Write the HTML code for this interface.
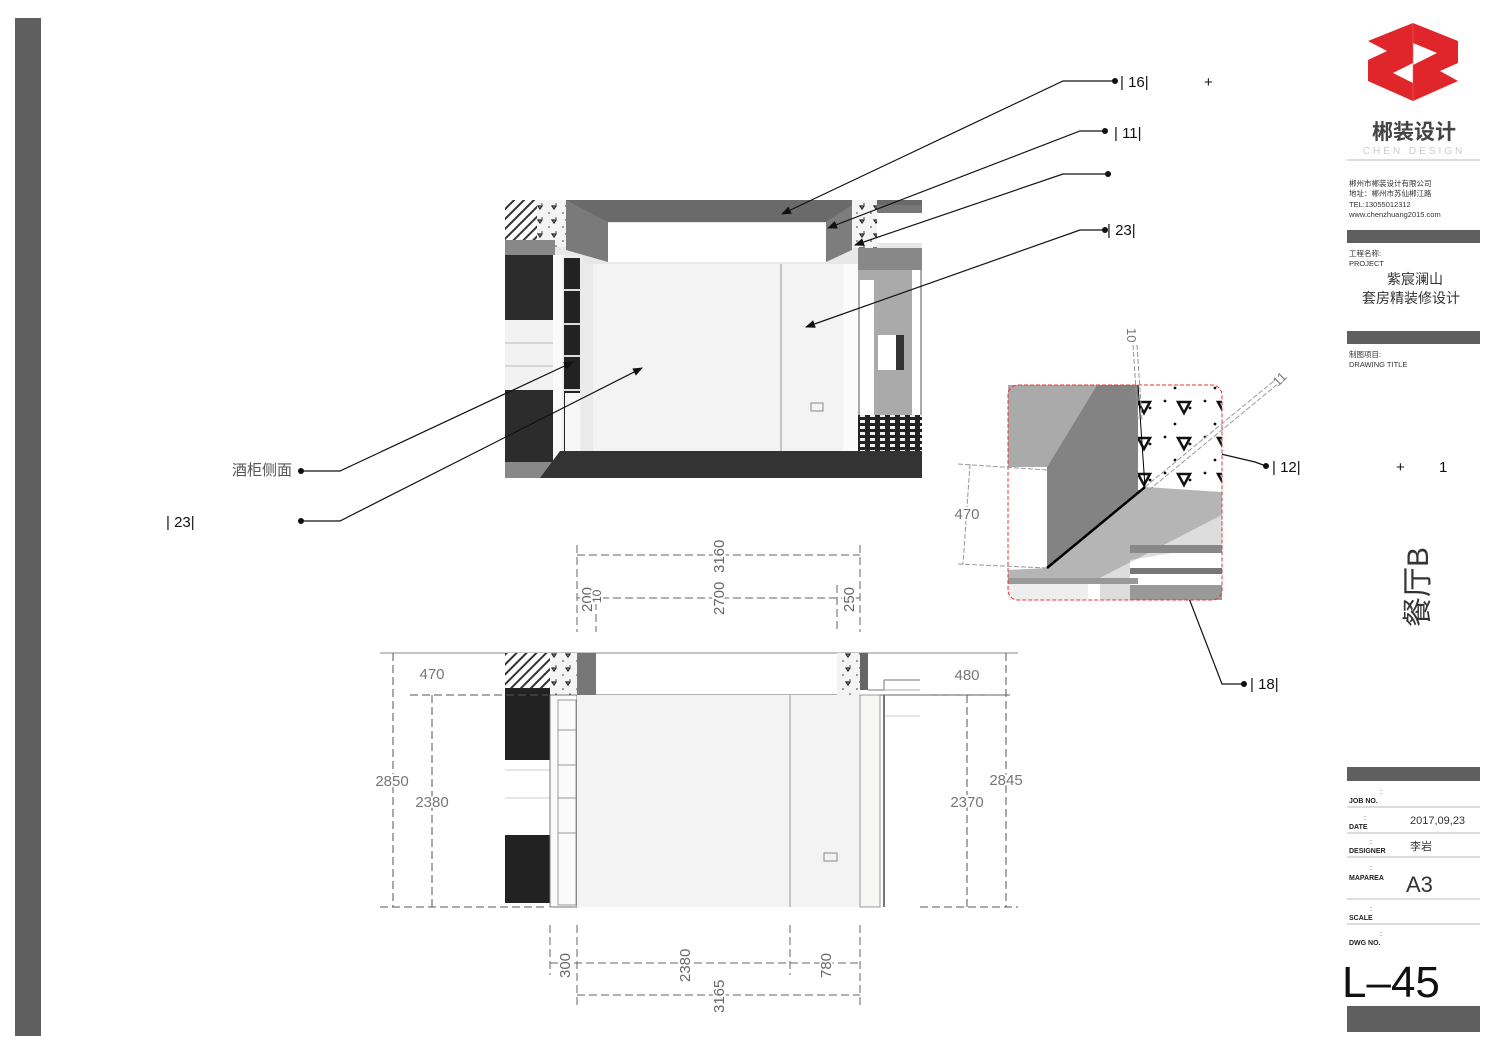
<!DOCTYPE html>
<html><head><meta charset="utf-8"><style>
html,body{margin:0;padding:0;background:#fff;}
svg{display:block;font-family:"Liberation Sans","Noto Sans CJK SC",sans-serif;}
.dt{paint-order:stroke;stroke:#fff;stroke-width:4px;}
</style></head><body>
<svg width="1500" height="1061" viewBox="0 0 1500 1061" xmlns="http://www.w3.org/2000/svg">
<defs>
<pattern id="hatch" width="7" height="7" patternUnits="userSpaceOnUse" patternTransform="rotate(45)">
<rect width="7" height="7" fill="#fff"/><rect width="2" height="7" fill="#333"/></pattern>
<pattern id="conc" width="14" height="14" patternUnits="userSpaceOnUse">
<rect width="14" height="14" fill="#f4f4f4"/><circle cx="3" cy="3" r="0.8" fill="#333"/><circle cx="10" cy="8" r="0.8" fill="#333"/><path d="M6 10 L10 10 L8 13 Z" fill="none" stroke="#222" stroke-width="1.2"/></pattern>
<pattern id="conc2" width="40" height="36" patternUnits="userSpaceOnUse">
<rect width="40" height="36" fill="#fff"/><circle cx="5" cy="5" r="1.4" fill="#111"/><circle cx="30" cy="12" r="1.4" fill="#111"/><circle cx="15" cy="28" r="1.4" fill="#111"/><path d="M18 6 L30 6 L24 17 Z" fill="none" stroke="#111" stroke-width="2.5"/></pattern>
<pattern id="check" width="10" height="6" patternUnits="userSpaceOnUse"><rect width="10" height="6" fill="#222"/><rect width="5" height="3" fill="#eee"/></pattern>
<marker id="ar" markerWidth="10" markerHeight="8" refX="9" refY="4" orient="auto" markerUnits="userSpaceOnUse"><path d="M0 0 L10 4 L0 8 Z" fill="#111"/></marker>
</defs>

<rect x="15" y="18" width="26" height="1018" fill="#5f5f5f"/>

<!-- Perspective view -->
<g>
<rect x="505" y="200" width="417" height="278" fill="#e8e8e8"/>
<rect x="505" y="200" width="32" height="40" fill="url(#hatch)"/>
<rect x="537" y="200" width="29" height="47" fill="url(#conc)"/>
<rect x="566" y="200" width="356" height="22" fill="#6a6a6a"/>
<polygon points="566,200 608,222 608,262 566,250" fill="#7a7a7a"/>
<polygon points="826,222 852,205 852,250 826,262" fill="#7d7d7d"/>
<rect x="608" y="223" width="218" height="39" fill="#fff"/>
<rect x="852" y="200" width="25" height="48" fill="url(#conc)"/>
<rect x="877" y="205" width="45" height="8" fill="#777"/>
<rect x="877" y="213" width="45" height="30" fill="#fff"/>
<rect x="858" y="248" width="64" height="22" fill="#888"/>
<rect x="505" y="240" width="50" height="15" fill="#888"/>
<rect x="505" y="255" width="48" height="65" fill="#2c2c2c"/>
<rect x="505" y="320" width="48" height="70" fill="#f2f2f2"/>
<line x1="505" y1="343" x2="553" y2="343" stroke="#bbb"/><line x1="505" y1="366" x2="553" y2="366" stroke="#bbb"/>
<rect x="505" y="390" width="48" height="72" fill="#2c2c2c"/>
<rect x="505" y="462" width="48" height="16" fill="#888"/>
<rect x="553" y="255" width="12" height="210" fill="#fafafa"/>
<rect x="563" y="257" width="18" height="208" fill="#222" stroke="#eee" stroke-width="2"/>
<line x1="563" y1="290" x2="581" y2="290" stroke="#ddd" stroke-width="2"/><line x1="563" y1="324" x2="581" y2="324" stroke="#ddd" stroke-width="2"/><line x1="563" y1="356" x2="581" y2="356" stroke="#ddd" stroke-width="2"/><line x1="563" y1="390" x2="581" y2="390" stroke="#ddd" stroke-width="2"/>
<rect x="565" y="393" width="15" height="70" fill="#f7f7f7"/>
<rect x="581" y="264" width="12" height="186" fill="#eaeaea"/>
<rect x="593" y="264" width="250" height="187" fill="#f3f3f3"/>
<line x1="781" y1="264" x2="781" y2="451" stroke="#999"/>
<rect x="843" y="264" width="15" height="187" fill="#fbfbfb"/>
<rect x="858" y="270" width="64" height="145" fill="#aaa"/>
<rect x="860" y="280" width="14" height="135" fill="#fff"/>
<rect x="878" y="335" width="18" height="35" fill="#fff"/>
<rect x="896" y="335" width="8" height="35" fill="#333"/>
<rect x="912" y="270" width="8" height="175" fill="#fff"/>
<rect x="858" y="415" width="64" height="36" fill="url(#check)"/>
<polygon points="540,478 560,451 922,451 922,478" fill="#333"/>
<rect x="811" y="403" width="12" height="8" fill="none" stroke="#888"/>
</g>

<!-- Leaders -->
<g stroke="#111" stroke-width="1.2" fill="none">
<polyline points="1115,81 1063,81 782,214" marker-end="url(#ar)"/>
<polyline points="1105,131 1080,131 828,228" marker-end="url(#ar)"/>
<polyline points="1108,174 1063,174 855,245" marker-end="url(#ar)"/>
<polyline points="1105,230 1080,230 806,327" marker-end="url(#ar)"/>
<polyline points="301,471 340,471 573,362" marker-end="url(#ar)"/>
<polyline points="301,521 340,521 642,368" marker-end="url(#ar)"/>
<polyline points="1266,466 1255,462 1140,435" marker-end="url(#ar)"/>
<polyline points="1244,684 1222,684 1148,492" marker-end="url(#ar)"/>
</g>
<g fill="#111"><circle cx="1115" cy="81" r="3"/><circle cx="1105" cy="131" r="3"/><circle cx="1108" cy="174" r="3"/><circle cx="1105" cy="230" r="3"/><circle cx="301" cy="471" r="3"/><circle cx="301" cy="521" r="3"/><circle cx="1266" cy="466" r="3"/><circle cx="1244" cy="684" r="3"/></g>
<g font-size="15" fill="#111">
<text x="1120" y="87">| 16|</text><text x="1204" y="87">+</text>
<text x="1114" y="138">| 11|</text>
<text x="1107" y="235">| 23|</text>
<text x="1272" y="472">| 12|</text>
<text x="1396" y="472">+</text><text x="1439" y="472">1</text>
<text x="1250" y="689">| 18|</text>
<text x="166" y="527">| 23|</text>
<text x="232" y="475" fill="#555">酒柜侧面</text>
</g>

<!-- Detail box -->
<g>
<rect x="1008" y="385" width="214" height="215" fill="#fff"/>
<polygon points="1008,385 1097,385 1047,467 1008,467" fill="#aaa"/>
<polygon points="1097,385 1138,385 1145,487 1047,568 1047,467" fill="#838383"/>
<rect x="1138" y="385" width="84" height="105" fill="url(#conc2)"/>
<polygon points="1145,487 1222,492 1222,515 1100,578 1008,578 1008,570 1047,568" fill="#b5b5b5"/>
<polygon points="1100,578 1222,515 1222,545 1130,560 1130,600 1100,600" fill="#ddd"/>
<rect x="1130" y="545" width="92" height="8" fill="#888"/><rect x="1130" y="568" width="92" height="6" fill="#777"/><rect x="1130" y="585" width="92" height="15" fill="#999"/>
<rect x="1008" y="578" width="130" height="6" fill="#999"/>
<rect x="1008" y="584" width="80" height="16" fill="#eee"/>
<line x1="1047" y1="568" x2="1145" y2="487" stroke="#000" stroke-width="2.5"/>
<line x1="1138" y1="385" x2="1145" y2="487" stroke="#000" stroke-width="1"/>
<rect x="1008" y="385" width="214" height="215" rx="10" fill="none" stroke="#e33" stroke-width="1" stroke-dasharray="4,2"/>
<g stroke="#999" stroke-dasharray="5,2" fill="none">
<line x1="1133" y1="345" x2="1138" y2="420"/><line x1="1137" y1="345" x2="1142" y2="420"/>
<line x1="1145" y1="487" x2="1275" y2="380"/><line x1="1149" y1="490" x2="1279" y2="383"/>
<line x1="958" y1="464" x2="1047" y2="470"/><line x1="958" y1="564" x2="1047" y2="568"/>
<line x1="970" y1="464" x2="963" y2="564"/>
</g>
<text class="dt" x="967" y="519" font-size="15" fill="#777" text-anchor="middle">470</text>
<text transform="translate(1127,328) rotate(90)" font-size="13" fill="#777">10</text>
<text transform="translate(1278,387) rotate(-45)" font-size="13" fill="#777">11</text>
</g>

<!-- Top dims -->
<g stroke="#666" stroke-dasharray="8,4" fill="none" stroke-width="1">
<line x1="577" y1="555" x2="860" y2="555"/><line x1="577" y1="598" x2="860" y2="598"/>
<line x1="577" y1="545" x2="577" y2="632"/><line x1="596" y1="590" x2="596" y2="632"/>
<line x1="837" y1="585" x2="837" y2="632"/><line x1="860" y1="545" x2="860" y2="632"/>
</g>
<g font-size="15" fill="#666" class="dt">
<text transform="translate(724,573) rotate(-90)">3160</text>
<text transform="translate(724,615) rotate(-90)">2700</text>
<text transform="translate(592,612) rotate(-90)">200</text>
<text transform="translate(601,603) rotate(-90)" font-size="12">10</text>
<text transform="translate(854,612) rotate(-90)">250</text>
</g>

<!-- Elevation -->
<g>
<line x1="380" y1="653" x2="1018" y2="653" stroke="#888"/>
<rect x="505" y="653" width="45" height="35" fill="url(#hatch)"/>
<rect x="550" y="653" width="27" height="42" fill="url(#conc)"/>
<rect x="577" y="653" width="19" height="42" fill="#777"/>
<rect x="505" y="688" width="45" height="72" fill="#222"/>
<line x1="505" y1="770" x2="550" y2="770" stroke="#ccc"/><line x1="505" y1="798" x2="550" y2="798" stroke="#ccc"/>
<rect x="505" y="835" width="45" height="68" fill="#222"/>
<rect x="550" y="695" width="27" height="212" fill="#fafafa" stroke="#777"/>
<rect x="558" y="700" width="18" height="205" fill="none" stroke="#999"/>
<g stroke="#999"><line x1="558" y1="730" x2="576" y2="730"/><line x1="558" y1="765" x2="576" y2="765"/><line x1="558" y1="798" x2="576" y2="798"/><line x1="558" y1="833" x2="576" y2="833"/></g>
<line x1="596" y1="695" x2="1010" y2="695" stroke="#666"/>
<rect x="577" y="695" width="283" height="212" fill="#f3f3f3"/>
<line x1="790" y1="695" x2="790" y2="907" stroke="#999"/>
<rect x="837" y="653" width="23" height="42" fill="url(#conc)"/>
<rect x="860" y="653" width="8" height="37" fill="#666"/>
<polyline points="868,690 884,690 884,680 920,680" fill="none" stroke="#777"/>
<line x1="884" y1="690" x2="920" y2="690" stroke="#aaa"/>
<line x1="884" y1="716" x2="920" y2="716" stroke="#ccc"/>
<rect x="860" y="695" width="20" height="212" fill="#f6f6f2" stroke="#999"/>
<line x1="884" y1="695" x2="884" y2="907" stroke="#777" stroke-width="2"/>
<rect x="824" y="853" width="13" height="8" fill="none" stroke="#888"/>
</g>
<g stroke="#555" stroke-dasharray="8,4" fill="none">
<line x1="380" y1="907" x2="548" y2="907"/><line x1="920" y1="907" x2="1018" y2="907"/>
<line x1="410" y1="695" x2="548" y2="695"/><line x1="930" y1="695" x2="985" y2="695"/>
<line x1="393" y1="653" x2="393" y2="907"/><line x1="432" y1="695" x2="432" y2="907"/>
<line x1="967" y1="695" x2="967" y2="907"/><line x1="1006" y1="653" x2="1006" y2="907"/>
</g>
<g font-size="15" fill="#777" text-anchor="middle" class="dt">
<text x="432" y="679">470</text><text x="392" y="786">2850</text><text x="432" y="807">2380</text>
<text x="967" y="680">480</text><text x="1006" y="785">2845</text><text x="967" y="807">2370</text>
</g>

<!-- Bottom dims -->
<g stroke="#666" stroke-dasharray="8,4" fill="none">
<line x1="550" y1="963" x2="860" y2="963"/><line x1="577" y1="995" x2="860" y2="995"/>
<line x1="550" y1="925" x2="550" y2="975"/><line x1="577" y1="925" x2="577" y2="1005"/>
<line x1="790" y1="925" x2="790" y2="975"/><line x1="860" y1="925" x2="860" y2="1005"/>
</g>
<g font-size="15" fill="#666" class="dt">
<text transform="translate(570,978) rotate(-90)">300</text>
<text transform="translate(690,982) rotate(-90)">2380</text>
<text transform="translate(831,978) rotate(-90)">780</text>
<text transform="translate(724,1013) rotate(-90)">3165</text>
</g>

<!-- Title block -->
<g>
<polygon points="1368,41 1413,23 1458,41 1458,63 1440,71 1458,81 1413,101 1368,81 1368,60 1387,51" fill="#e0262a"/>
<polygon points="1413,43 1437,53 1413,65" fill="#fff"/>
<polygon points="1413,63 1393,73 1413,83" fill="#fff"/>
<line x1="1413" y1="23" x2="1413" y2="101" stroke="#f06060" stroke-width="0.6"/>
<text x="1414" y="139" font-size="21" font-weight="bold" fill="#444" text-anchor="middle">郴装设计</text>
<text x="1414" y="154" font-size="10" fill="#ccc" text-anchor="middle" letter-spacing="3">CHEN DESIGN</text>
<line x1="1347" y1="160" x2="1480" y2="160" stroke="#bbb"/>
<g font-size="7.5" fill="#333">
<text x="1349" y="186">郴州市郴装设计有限公司</text><text x="1349" y="196">地址：郴州市苏仙郴江路</text>
<text x="1349" y="207">TEL:13055012312</text><text x="1349" y="217">www.chenzhuang2015.com</text>
<text x="1349" y="256">工程名称:</text><text x="1349" y="266">PROJECT</text>
<text x="1349" y="357">制图项目:</text><text x="1349" y="367">DRAWING TITLE</text>
</g>
<rect x="1347" y="230" width="133" height="13" fill="#5f5f5f"/>
<text x="1415" y="284" font-size="14" fill="#333" text-anchor="middle">紫宸澜山</text>
<text x="1411" y="303" font-size="14" fill="#333" text-anchor="middle">套房精装修设计</text>
<rect x="1347" y="331" width="133" height="13" fill="#5f5f5f"/>
<text transform="translate(1428,627) rotate(-90)" font-size="30" fill="#333">餐厅B</text>
<rect x="1347" y="767" width="133" height="14" fill="#5f5f5f"/>
<g stroke="#bbb"><line x1="1347" y1="807" x2="1480" y2="807"/><line x1="1347" y1="833" x2="1480" y2="833"/><line x1="1347" y1="857" x2="1480" y2="857"/><line x1="1347" y1="899" x2="1480" y2="899"/><line x1="1347" y1="924" x2="1480" y2="924"/></g>
<g font-size="7" font-weight="bold" fill="#222">
<text x="1349" y="803">JOB NO.</text><text x="1349" y="829">DATE</text><text x="1349" y="853">DESIGNER</text>
<text x="1349" y="880">MAPAREA</text><text x="1349" y="920">SCALE</text><text x="1349" y="945">DWG NO.</text>
</g>
<g font-size="7" fill="#222"><text x="1380" y="794">:</text><text x="1364" y="820">:</text><text x="1370" y="844">:</text><text x="1370" y="870">:</text><text x="1370" y="911">:</text><text x="1380" y="936">:</text></g>
<text x="1410" y="824" font-size="11" fill="#333">2017,09,23</text>
<text x="1410" y="850" font-size="11" fill="#333">李岩</text>
<text x="1406" y="892" font-size="22" fill="#333">A3</text>
<text x="1342" y="997" font-size="44" fill="#111">L–45</text>
<rect x="1347" y="1006" width="133" height="26" fill="#5f5f5f"/>
</g>
</svg>
</body></html>
